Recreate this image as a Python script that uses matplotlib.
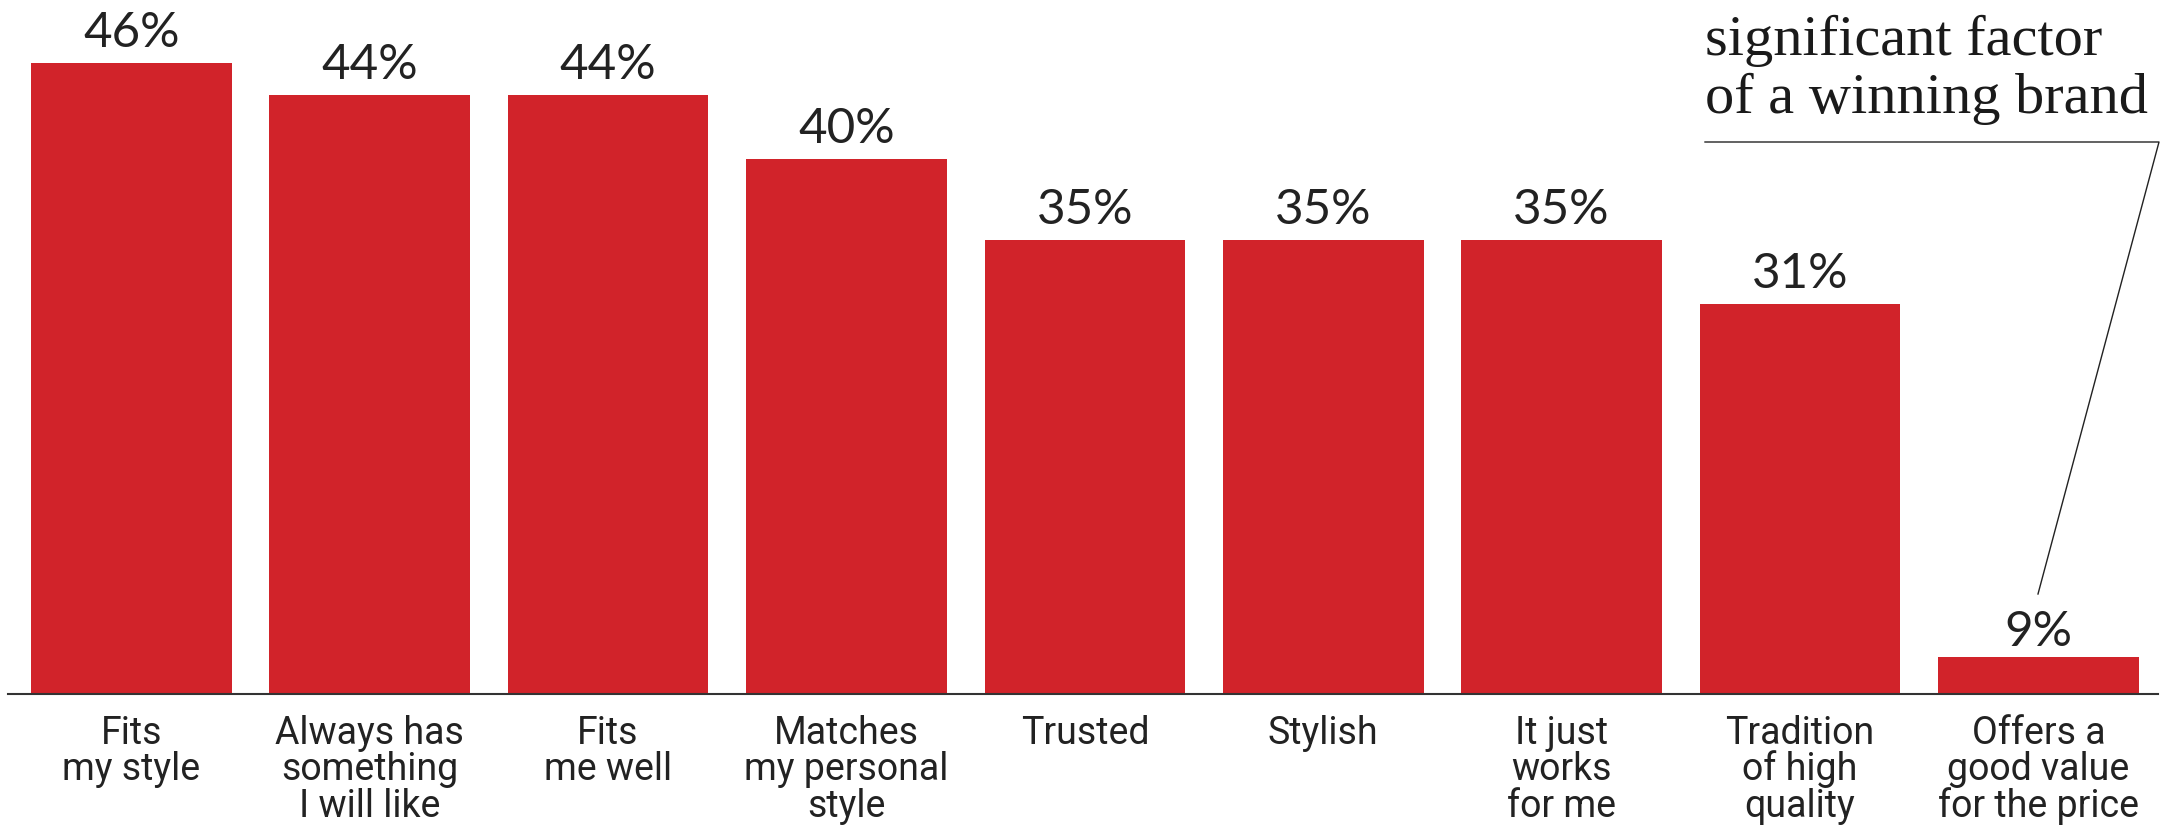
import matplotlib
matplotlib.use("Agg")
import matplotlib.pyplot as plt
from matplotlib.lines import Line2D

# ---- data ----
categories = [
    "Fits\nmy style",
    "Always has\nsomething\nI will like",
    "Fits\nme well",
    "Matches\nmy personal\nstyle",
    "Trusted",
    "Stylish",
    "It just\nworks\nfor me",
    "Tradition\nof high\nquality",
    "Offers a\ngood value\nfor the price",
]
values = [46, 44, 44, 40, 35, 35, 35, 31, 9]
annotation_lines = ["significant factor", "of a winning brand"]

# ---- style ----
W, H = 2178, 825
BAR_COLOR = "#D1232A"
TEXT_COLOR = "#222222"
SANS = ["Roboto", "DejaVu Sans"]
NUM = ["Lato", "Roboto", "DejaVu Sans"]
SERIF = ["Liberation Serif", "DejaVu Serif"]
PX2PT = 72 / 100

fig = plt.figure(figsize=(W / 100, H / 100), dpi=100)
fig.patch.set_facecolor("white")

ax_left, ax_right = 8, 2158
ax_base = 694
ax = fig.add_axes([ax_left / W, (H - ax_base) / H, (ax_right - ax_left) / W, ax_base / H])

x = list(range(len(values)))
ax.bar(x, values, width=0.842, color=BAR_COLOR, linewidth=0, zorder=1)

ax.set_xlim(-0.5176, 8.502)
ax.set_ylim(6.695, 49.92)

for s in ["top", "left", "right"]:
    ax.spines[s].set_visible(False)
ax.spines["bottom"].set_color("#333333")
ax.spines["bottom"].set_linewidth(1.5)
ax.set_xticks([])
ax.set_yticks([])
ax.patch.set_alpha(0)

# value labels
for i, v in zip(x, values):
    gap = 16 if v > 20 else 11
    ax.annotate(f"{v}%", xy=(i, v), xytext=(0, gap * PX2PT), textcoords="offset points",
                ha="center", va="baseline", fontsize=35.5, color=TEXT_COLOR,
                family=NUM, annotation_clip=False)

# category labels (each line placed separately)
first_baseline_px = 50
line_gap_px = 36.5
for i, lab in zip(x, categories):
    for k, line in enumerate(lab.split("\n")):
        ax.annotate(line, xy=(i, 0), xycoords=("data", "axes fraction"),
                    xytext=(0, -(first_baseline_px + k * line_gap_px) * PX2PT),
                    textcoords="offset points", ha="center", va="baseline",
                    fontsize=27, color=TEXT_COLOR, family=SANS,
                    annotation_clip=False)

# serif annotation at top right
baselines = [55, 113]
for txt, by in zip(annotation_lines, baselines):
    fig.text(1705 / W, 1 - by / H, txt, ha="left", va="baseline",
             fontsize=42, color="#1a1a1a", family=SERIF)

# leader line
pts = [(1705, 142), (2159, 142), (2038, 594)]
fig.add_artist(Line2D([p[0] / W for p in pts], [1 - p[1] / H for p in pts],
                      transform=fig.transFigure, color="#222222", linewidth=1.0))

fig.savefig("out.png", dpi=100, facecolor="white")
